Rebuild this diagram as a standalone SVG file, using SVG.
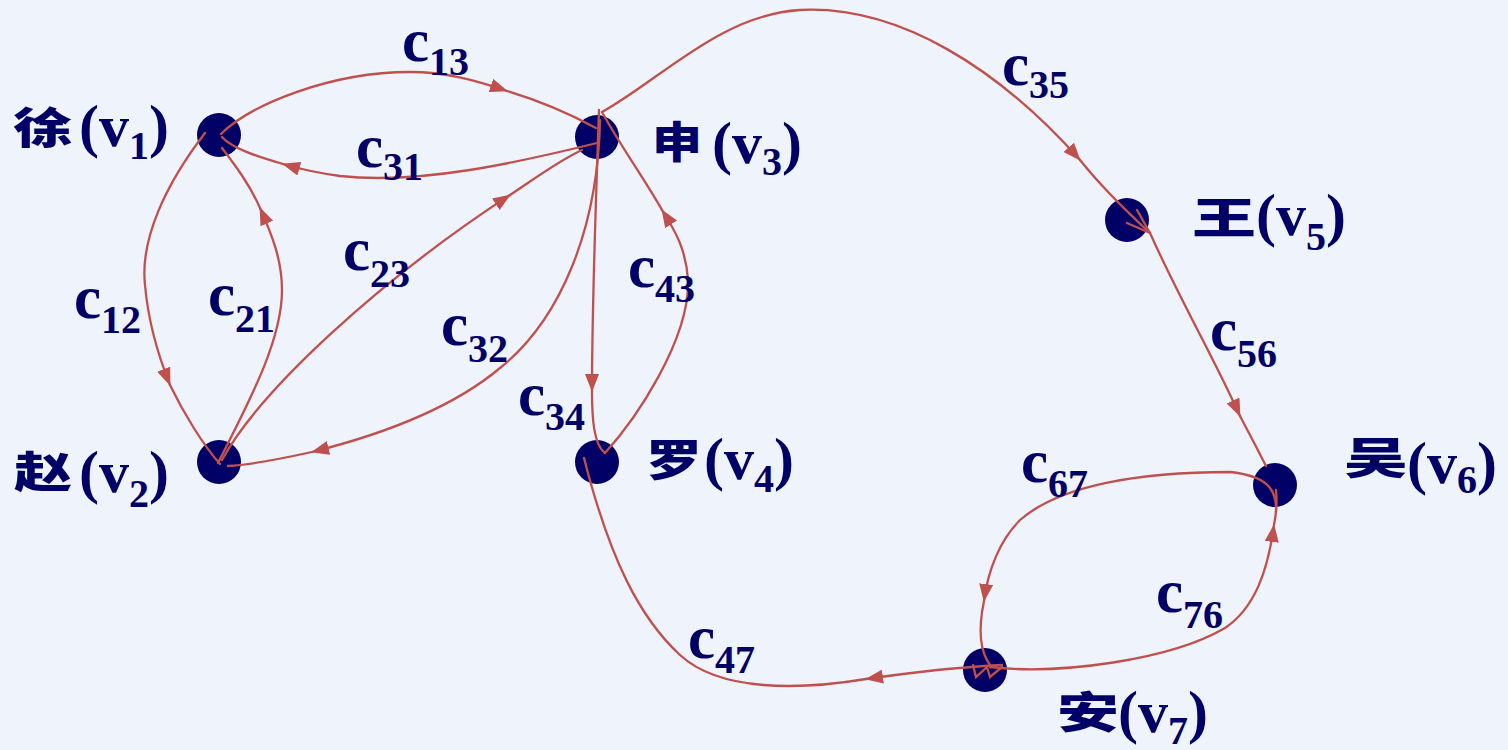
<svg xmlns="http://www.w3.org/2000/svg" width="1508" height="750" viewBox="0 0 1508 750">
<defs>
<style>
.bg{fill:#eff3fb}
.node{fill:#000066}
.e{fill:none;stroke:#c0504d;stroke-width:2.3;stroke-linecap:round}
.ea{marker-end:url(#ah)}
.cj{font-family:"Noto Sans CJK SC","Noto Sans CJK JP",sans-serif;font-weight:900;font-size:43px;fill:#000066}
.nv{font-family:"Liberation Serif","Times New Roman",serif;font-weight:bold;font-size:60px;fill:#000066}
.el{font-family:"Liberation Serif","Times New Roman",serif;font-weight:bold;font-size:61px;fill:#000066}
.sb{font-size:40px}
</style>
<marker id="ah" viewBox="0 0 18 14" refX="17" refY="7" markerWidth="18" markerHeight="14" markerUnits="userSpaceOnUse" orient="auto">
<path d="M0,0 L18,7 L0,14 Z" fill="#c0504d"/>
</marker>
</defs>
<rect class="bg" x="0" y="0" width="1508" height="750"/>

<g id="v1"><circle class="node" cx="219" cy="135" r="22"/>
<text class="cj" x="13" y="144" textLength="60" lengthAdjust="spacingAndGlyphs">徐</text>
<text class="nv" x="79" y="146">(v<tspan class="sb" dy="13">1</tspan><tspan dy="-13">)</tspan></text></g>

<g id="v2"><circle class="node" cx="219" cy="462" r="22"/>
<text class="cj" x="14" y="488" textLength="58" lengthAdjust="spacingAndGlyphs">赵</text>
<text class="nv" x="79" y="492">(v<tspan class="sb" dy="15">2</tspan><tspan dy="-15">)</tspan></text></g>

<g id="v3"><circle class="node" cx="597" cy="137" r="22"/>
<text class="cj" x="652" y="158" textLength="50" lengthAdjust="spacingAndGlyphs">申</text>
<text class="nv" x="712" y="163">(v<tspan class="sb" dy="12">3</tspan><tspan dy="-12">)</tspan></text></g>

<g id="v4"><circle class="node" cx="597" cy="462" r="22"/>
<text class="cj" x="646" y="476" textLength="56" lengthAdjust="spacingAndGlyphs">罗</text>
<text class="nv" x="704" y="479">(v<tspan class="sb" dy="13">4</tspan><tspan dy="-13">)</tspan></text></g>

<g id="v5"><circle class="node" cx="1127" cy="220" r="22"/>
<text class="cj" x="1192" y="234" textLength="64" lengthAdjust="spacingAndGlyphs">王</text>
<text class="nv" x="1256" y="235">(v<tspan class="sb" dy="15">5</tspan><tspan dy="-15">)</tspan></text></g>

<g id="v6"><circle class="node" cx="1275" cy="485" r="22"/>
<text class="cj" x="1344" y="474" textLength="64" lengthAdjust="spacingAndGlyphs">吴</text>
<text class="nv" x="1407" y="483">(v<tspan class="sb" dy="10">6</tspan><tspan dy="-10">)</tspan></text></g>

<g id="v7"><circle class="node" cx="985" cy="670" r="22"/>
<text class="cj" x="1057" y="728" textLength="62" lengthAdjust="spacingAndGlyphs">安</text>
<text class="nv" x="1118" y="732">(v<tspan class="sb" dy="12">7</tspan><tspan dy="-12">)</tspan></text></g>

<g id="connectors">
<!-- c13 -->
<path class="e ea" d="M221,134 C250,105 330,72 410,72 C445,72 475,80 507,91"/>
<path class="e" d="M507,91 C540,101 570,114 596,128"/>
<!-- c31 -->
<path class="e ea" d="M597,143 C520,162 420,185 340,176 C318,173 300,169 283,164"/>
<path class="e" d="M283,164 C255,156 232,148 222,137"/>
<!-- c12 -->
<path class="e ea" d="M205,133 C165,185 140,240 145,285 C148,320 158,355 170,385"/>
<path class="e" d="M170,385 C183,412 203,445 220,464"/>
<!-- c21 -->
<path class="e ea" d="M218,463 C250,400 282,340 282,290 C282,260 272,235 260,208"/>
<path class="e" d="M260,208 C250,185 235,165 222,148"/>
<!-- c23 -->
<path class="e ea" d="M222,460 C260,390 380,280 510,195"/>
<path class="e" d="M510,195 C540,175 560,160 582,150"/>
<!-- c32 -->
<path class="e ea" d="M600,120 C598,230 560,320 500,368 C450,410 380,435 312,452"/>
<path class="e" d="M312,452 C280,459 250,465 228,466"/>
<!-- c34 -->
<path class="e ea" d="M599,110 C596,200 592,300 592,391"/>
<path class="e" d="M592,391 C592,420 594,445 605,453"/>
<!-- c43 -->
<path class="e ea" d="M605,453 C635,420 690,340 688,280 C686,250 676,232 662,210"/>
<path class="e" d="M662,210 C645,180 620,145 602,112"/>
<!-- c35 -->
<path class="e ea" d="M602,112 C660,80 720,15 800,10 C900,5 1000,70 1080,160"/>
<path class="e" d="M1080,160 C1100,185 1125,210 1150,233"/>
<path class="e" d="M1127,223 L1150,233 M1137,210 L1150,233"/>
<!-- c56 -->
<path class="e ea" d="M1150,233 C1180,300 1215,360 1240,416"/>
<path class="e" d="M1240,416 C1250,435 1258,450 1266,466"/>
<!-- c67 -->
<path class="e ea" d="M1276,512 C1277,490 1268,476 1230,472 C1140,472 1060,485 1020,520 C1000,540 988,570 984,601"/>
<path class="e" d="M984,601 C979,625 979,650 990,665"/>
<!-- c76 -->
<path class="e ea" d="M990,667 C1060,675 1170,660 1225,628 C1255,608 1268,570 1274,525"/>
<path class="e" d="M1274,525 C1277,510 1277,500 1276,490"/>
<!-- c47 -->
<path class="e ea" d="M1002,665 C960,667 915,672 866,679"/>
<path class="e" d="M866,679 C800,690 720,692 680,655 C640,618 610,560 584,458"/>
<polyline class="e" points="973,665 976,677 987,667 990,677 1002,667"/>
</g>

<g id="edge-labels">
<text class="el" x="402" y="61">c<tspan class="sb" dy="14">13</tspan></text>
<text class="el" x="356" y="167">c<tspan class="sb" dy="13">31</tspan></text>
<text class="el" x="1002" y="85">c<tspan class="sb" dy="13">35</tspan></text>
<text class="el" x="74" y="318">c<tspan class="sb" dy="15">12</tspan></text>
<text class="el" x="208" y="315">c<tspan class="sb" dy="17">21</tspan></text>
<text class="el" x="343" y="270">c<tspan class="sb" dy="17">23</tspan></text>
<text class="el" x="441" y="345">c<tspan class="sb" dy="17">32</tspan></text>
<text class="el" x="628" y="287">c<tspan class="sb" dy="15">43</tspan></text>
<text class="el" x="518" y="415">c<tspan class="sb" dy="15">34</tspan></text>
<text class="el" x="1210" y="350">c<tspan class="sb" dy="17">56</tspan></text>
<text class="el" x="1021" y="482">c<tspan class="sb" dy="15">67</tspan></text>
<text class="el" x="1156" y="612">c<tspan class="sb" dy="16">76</tspan></text>
<text class="el" x="688" y="658">c<tspan class="sb" dy="15">47</tspan></text>
</g>
</svg>
